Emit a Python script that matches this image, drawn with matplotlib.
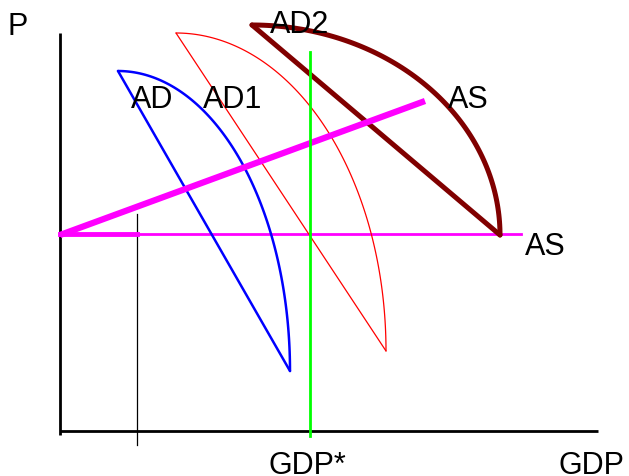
import matplotlib.pyplot as plt
import numpy as np

# diagram coordinates (screen-like units, y grows downward)
axis_origin = (60, 432)
axis_ends = (598, 34)

# AD curves: straight edge from top point to bottom point, plus a quarter-ellipse arc
ad_names = ['AD', 'AD1', 'AD2']
ad_top = [(118, 72), (176, 34), (252, 26)]
ad_bottom = [(290, 372), (386, 352), (500, 236)]
ad_colors = ['#0000ff', '#ff0000', '#800000']
ad_widths = [1.8, 0.9, 3.6]

as_start = (60, 236)
as_end = (425, 102)
as_flat_y = 235
as_flat_end = 521

gdp_star_x = 310
gdp_star_span = (53, 437)
marker_x = 137
marker_span = (215, 446)

labels = ['P', 'AD', 'AD1', 'AD2', 'AS', 'AS', 'GDP*', 'GDP']
label_pos = [(8, 35), (131, 108), (203, 108), (270, 33), (448, 108), (525, 255), (268, 474), (558, 474)]

fig = plt.figure(figsize=(6.29, 4.77), dpi=100)
ax = fig.add_axes([0, 0, 1, 1])
ax.set_xlim(0, 629)
ax.set_ylim(477, 0)
ax.axis('off')

# axes of the diagram
ax.plot([axis_origin[0], axis_origin[0]], [axis_ends[1], axis_origin[1] + 4], color='black', lw=2.0, solid_capstyle='butt')
ax.plot([axis_origin[0], axis_ends[0]], [axis_origin[1], axis_origin[1]], color='black', lw=2.0, solid_capstyle='butt')

# thin marker line
ax.plot([marker_x, marker_x], marker_span, color='black', lw=0.9)

# horizontal AS
ax.plot([as_start[0], as_flat_end], [as_flat_y, as_flat_y], color='#ff00ff', lw=2.0)
ax.plot([as_start[0], marker_x], [as_flat_y, as_flat_y], color='#ff00ff', lw=3.5)

# AD curves
t = np.linspace(0, np.pi / 2, 100)
for top, bot, c, w in zip(ad_top, ad_bottom, ad_colors, ad_widths):
    ax.plot([top[0], bot[0]], [top[1], bot[1]], color=c, lw=w, solid_capstyle='round')
    a = bot[0] - top[0]
    b = bot[1] - top[1]
    ax.plot(top[0] + a * np.sin(t), bot[1] - b * np.cos(t), color=c, lw=w, solid_capstyle='round')

# sloped AS
ax.plot([as_start[0], as_end[0]], [as_start[1], as_end[1]], color='#ff00ff', lw=4.5, solid_capstyle='butt')

# potential GDP
ax.plot([gdp_star_x, gdp_star_x], gdp_star_span, color='#00ff00', lw=2.0)

for s, (x, y) in zip(labels, label_pos):
    ax.text(x, y, s, fontsize=22, family='Liberation Sans', va='baseline', ha='left', color='black')

plt.savefig('out.png', dpi=100)
plt.close()
